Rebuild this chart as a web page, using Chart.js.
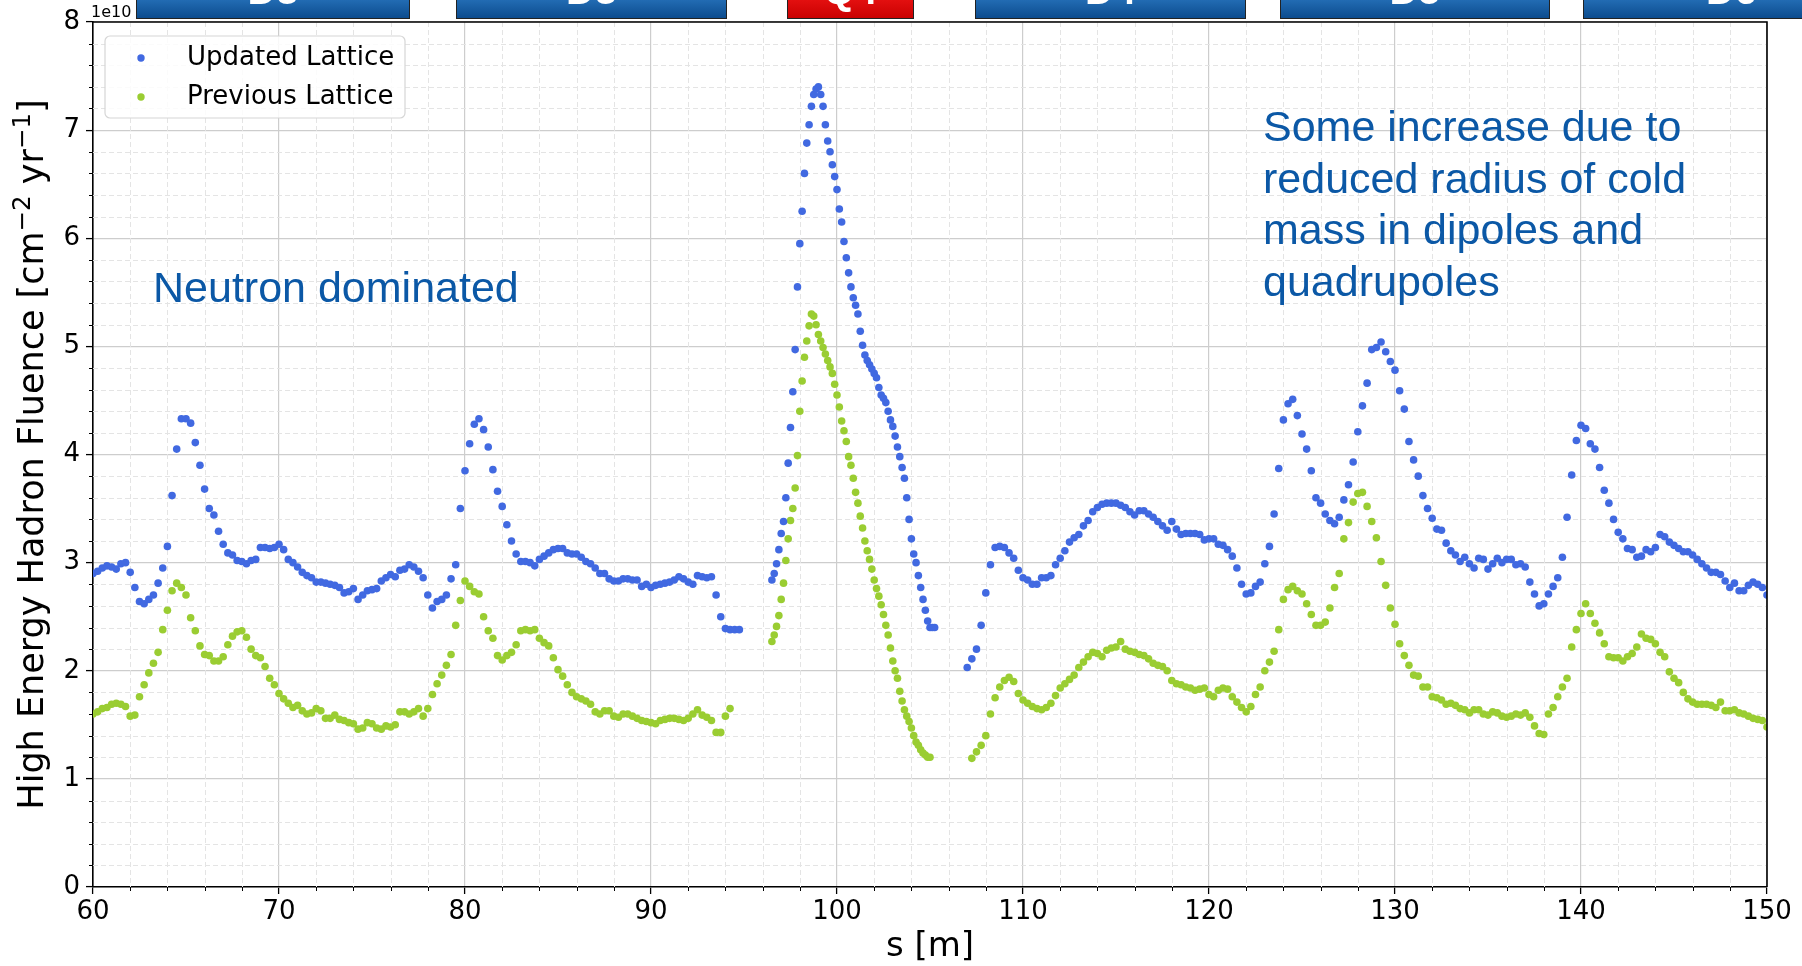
<!DOCTYPE html>
<html>
<head>
<meta charset="utf-8">
<title>High energy hadron fluence along s</title>
<script src="https://cdn.jsdelivr.net/npm/chart.js@4.4.1/dist/chart.umd.min.js"></script>
<style>
  html, body { margin: 0; padding: 0; background: #fff; }
  #wrap { position: relative; width: 1802px; height: 966px; }
</style>
</head>
<body>
<div id="wrap"><canvas id="fluence" width="1802" height="966"></canvas></div>
<script>
(function() {
    'use strict';

    // ===== Data =====
    // fluence in units of 1e10 cm^-2 yr^-1
    // arcs are binned every 0.25 m, the Q4 region every 0.125 m
    const ARC_STEP = 0.25;
    const Q4_STEP = 0.125;

    // Updated lattice
    const UPD_LEFT_START = 60.0;
    const updatedLeft = [
        2.90, 2.92, 2.95, 2.97, 2.96, 2.94, 2.99, 3.00, 2.91, 2.77, 2.64, 2.62, 2.66, 2.70, 2.81, 2.95, 3.15, 3.62, 4.05, 4.33,
        4.33, 4.29, 4.11, 3.90, 3.68, 3.50, 3.44, 3.29, 3.17, 3.09, 3.07, 3.02, 3.01, 2.99, 3.02, 3.03, 3.14, 3.14, 3.13, 3.14,
        3.17, 3.12, 3.03, 3.00, 2.96, 2.91, 2.88, 2.86, 2.82, 2.82, 2.81, 2.80, 2.79, 2.77, 2.72, 2.73, 2.76, 2.66, 2.70, 2.74,
        2.75, 2.76, 2.83, 2.86, 2.89, 2.87, 2.93, 2.94, 2.98, 2.96, 2.92, 2.86, 2.70, 2.58, 2.64, 2.66, 2.70, 2.85, 2.98, 3.50,
        3.85, 4.10, 4.28, 4.33, 4.23, 4.07, 3.86, 3.66, 3.52, 3.35, 3.20, 3.08, 3.01, 3.01, 3.00, 2.97, 3.03, 3.06, 3.09, 3.12,
        3.13, 3.13, 3.09, 3.08, 3.08, 3.05, 3.01, 2.99, 2.95, 2.90, 2.90, 2.85, 2.83, 2.83, 2.85, 2.85, 2.84, 2.84, 2.78, 2.80,
        2.77, 2.79, 2.80, 2.81, 2.82, 2.84, 2.87, 2.85, 2.82, 2.80, 2.88, 2.87, 2.86, 2.87, 2.70, 2.50, 2.39, 2.38, 2.38, 2.38
    ];
    const UPD_Q4_START = 96.5;
    const updatedQ4 = [
        2.84, 2.90, 2.99, 3.12, 3.27, 3.38, 3.60, 3.92,
        4.25, 4.58, 4.97, 5.55, 5.95, 6.25, 6.60, 6.88,
        7.05, 7.22, 7.33, 7.38, 7.40, 7.33, 7.22, 7.05,
        6.90, 6.80, 6.68, 6.57, 6.45, 6.27, 6.15, 5.97,
        5.82, 5.68, 5.55, 5.45, 5.38, 5.30, 5.14, 5.01,
        4.92, 4.87, 4.83, 4.79, 4.75, 4.71, 4.62, 4.55,
        4.52, 4.48, 4.40, 4.32, 4.26, 4.17, 4.07, 3.98,
        3.88, 3.78, 3.60, 3.40, 3.22, 3.08, 3.00, 2.88,
        2.77, 2.66, 2.56, 2.46, 2.40, 2.40, 2.40
    ];
    const UPD_RIGHT_START = 107.0;
    const updatedRight = [
        2.03, 2.11, 2.20, 2.42, 2.72, 2.98, 3.14, 3.15, 3.14, 3.09, 3.04, 2.93,
        2.86, 2.84, 2.80, 2.80, 2.86, 2.86, 2.88, 2.98, 3.04, 3.11, 3.19, 3.23, 3.26, 3.34, 3.39, 3.47, 3.51, 3.54, 3.55, 3.55,
        3.55, 3.53, 3.51, 3.47, 3.44, 3.48, 3.48, 3.45, 3.42, 3.38, 3.34, 3.30, 3.38, 3.31, 3.26, 3.27, 3.27, 3.27, 3.26, 3.21,
        3.22, 3.22, 3.17, 3.16, 3.12, 3.06, 2.95, 2.80, 2.71, 2.72, 2.78, 2.82, 2.99, 3.15, 3.45, 3.87, 4.32, 4.47, 4.51, 4.36,
        4.19, 4.05, 3.85, 3.60, 3.55, 3.45, 3.39, 3.36, 3.42, 3.58, 3.72, 3.93, 4.21, 4.45, 4.66, 4.97, 4.99, 5.04, 4.95, 4.86,
        4.78, 4.59, 4.42, 4.12, 3.95, 3.80, 3.62, 3.50, 3.41, 3.31, 3.30, 3.18, 3.11, 3.07, 3.01, 3.05, 2.99, 2.95, 3.04, 3.03,
        2.94, 2.99, 3.04, 3.00, 3.03, 3.03, 2.98, 2.99, 2.96, 2.82, 2.71, 2.60, 2.62, 2.71, 2.78, 2.86, 3.05, 3.42, 3.81, 4.13,
        4.27, 4.24, 4.10, 4.05, 3.88, 3.67, 3.55, 3.40, 3.28, 3.22, 3.13, 3.12, 3.05, 3.06, 3.12, 3.10, 3.14, 3.26, 3.24, 3.19,
        3.16, 3.13, 3.10, 3.10, 3.07, 3.03, 2.99, 2.95, 2.91, 2.91, 2.89, 2.83, 2.77, 2.81, 2.74, 2.74, 2.79, 2.82, 2.80, 2.77,
        2.70
    ];

    // Previous lattice
    const PREV_LEFT_START = 60.0;
    const previousLeft = [
        1.60, 1.62, 1.65, 1.66, 1.69, 1.70, 1.69, 1.67, 1.58, 1.59, 1.76, 1.87, 1.98, 2.07, 2.17, 2.38, 2.56, 2.74, 2.81, 2.77,
        2.70, 2.49, 2.37, 2.23, 2.15, 2.14, 2.09, 2.09, 2.13, 2.24, 2.32, 2.36, 2.37, 2.31, 2.20, 2.14, 2.12, 2.04, 1.93, 1.87,
        1.79, 1.74, 1.70, 1.66, 1.68, 1.63, 1.60, 1.61, 1.65, 1.63, 1.56, 1.56, 1.59, 1.55, 1.54, 1.52, 1.51, 1.46, 1.47, 1.52,
        1.51, 1.47, 1.46, 1.49, 1.48, 1.50, 1.62, 1.62, 1.60, 1.62, 1.65, 1.58, 1.65, 1.78, 1.88, 1.96, 2.05, 2.15, 2.42, 2.65,
        2.83, 2.78, 2.73, 2.71, 2.50, 2.37, 2.30, 2.14, 2.10, 2.14, 2.17, 2.24, 2.37, 2.38, 2.37, 2.38, 2.30, 2.26, 2.23, 2.12,
        2.01, 1.95, 1.87, 1.80, 1.76, 1.74, 1.72, 1.69, 1.62, 1.60, 1.63, 1.63, 1.58, 1.57, 1.60, 1.60, 1.58, 1.56, 1.54, 1.53,
        1.52, 1.51, 1.54, 1.55, 1.56, 1.56, 1.55, 1.54, 1.56, 1.60, 1.64, 1.59, 1.57, 1.54, 1.43, 1.43, 1.58, 1.65
    ];
    const PREV_Q4_START = 96.5;
    const previousQ4 = [
        2.27, 2.33, 2.41, 2.51, 2.66, 2.81, 3.02, 3.22,
        3.39, 3.50, 3.69, 3.99, 4.40, 4.68, 4.90, 5.05,
        5.19, 5.30, 5.28, 5.20, 5.11, 5.05, 4.99, 4.93,
        4.87, 4.81, 4.75, 4.65, 4.55, 4.44, 4.31, 4.22,
        4.12, 3.98, 3.90, 3.78, 3.65, 3.55, 3.43, 3.32,
        3.20, 3.11, 3.03, 2.94, 2.84, 2.76, 2.69, 2.61,
        2.52, 2.42, 2.33, 2.21, 2.09, 2.00, 1.93, 1.81,
        1.72, 1.64, 1.58, 1.53, 1.47, 1.40, 1.34, 1.31,
        1.27, 1.24, 1.22, 1.20, 1.20
    ];
    const PREV_RIGHT_START = 107.25;
    const previousRight = [
        1.19, 1.25, 1.31, 1.40, 1.60, 1.75, 1.85, 1.91, 1.94, 1.90, 1.79,
        1.73, 1.70, 1.67, 1.65, 1.64, 1.66, 1.70, 1.77, 1.84, 1.88, 1.92, 1.96, 2.03, 2.08, 2.13, 2.17, 2.16, 2.13, 2.19, 2.21,
        2.22, 2.27, 2.20, 2.18, 2.17, 2.15, 2.14, 2.11, 2.07, 2.05, 2.04, 2.00, 1.91, 1.88, 1.87, 1.85, 1.84, 1.82, 1.83, 1.84,
        1.78, 1.76, 1.82, 1.84, 1.83, 1.76, 1.71, 1.66, 1.62, 1.67, 1.78, 1.85, 2.00, 2.08, 2.18, 2.38, 2.66, 2.75, 2.78, 2.74,
        2.71, 2.62, 2.52, 2.42, 2.42, 2.45, 2.58, 2.77, 2.90, 3.22, 3.37, 3.56, 3.64, 3.65, 3.52, 3.38, 3.23, 3.01, 2.79, 2.58,
        2.43, 2.25, 2.14, 2.05, 1.96, 1.95, 1.85, 1.85, 1.76, 1.75, 1.73, 1.69, 1.70, 1.68, 1.65, 1.64, 1.61, 1.64, 1.64, 1.60,
        1.59, 1.62, 1.61, 1.58, 1.57, 1.58, 1.60, 1.59, 1.61, 1.57, 1.49, 1.42, 1.41, 1.60, 1.66, 1.76, 1.85, 1.93, 2.22, 2.38,
        2.53, 2.62, 2.53, 2.44, 2.35, 2.25, 2.13, 2.12, 2.12, 2.09, 2.13, 2.16, 2.22, 2.34, 2.30, 2.29, 2.25, 2.17, 2.13, 1.99,
        1.93, 1.89, 1.80, 1.74, 1.71, 1.69, 1.69, 1.69, 1.68, 1.66, 1.71, 1.63, 1.63, 1.64, 1.61, 1.60, 1.58, 1.56, 1.55, 1.54,
        1.48
    ];

    const X_TICKS = [60, 70, 80, 90, 100, 110, 120, 130, 140, 150];
    const Y_TICKS = [0, 1, 2, 3, 4, 5, 6, 7, 8];

    // magnets drawn along the top, extents in s [m]
    const magnetNames = ['D3', 'D3', 'Q4', 'D4', 'D5', 'D6'];
    const magnetStart = [62.3, 79.5, 97.3, 107.4, 123.8, 140.1];
    const magnetEnd = [77.0, 94.05, 104.1, 121.95, 138.3, 156.0];
    const magnetKind = ['dipole', 'dipole', 'quad', 'dipole', 'dipole', 'dipole'];

    // ===== Styles =====
    const BLUE = '#4169e1';
    const GREEN = '#9acd32';
    const NOTE = '#0b58a6';
    const AXIS_FONT = 'DejaVu Sans';

    function segment(start, step, vals) {
        return vals.map((v, i) => ({ x: start + i * step, y: v }));
    }

    const updatedPoints = [].concat(
        segment(UPD_LEFT_START, ARC_STEP, updatedLeft),
        segment(UPD_Q4_START, Q4_STEP, updatedQ4),
        segment(UPD_RIGHT_START, ARC_STEP, updatedRight)
    );
    const previousPoints = [].concat(
        segment(PREV_LEFT_START, ARC_STEP, previousLeft),
        segment(PREV_Q4_START, Q4_STEP, previousQ4),
        segment(PREV_RIGHT_START, ARC_STEP, previousRight)
    );

    // y axis title with raised exponents
    function drawYTitle(ctx, area) {
        const big = '35px "' + AXIS_FONT + '"';
        const small = '24.5px "' + AXIS_FONT + '"';
        const parts = [
            ['High Energy Hadron Fluence [cm', big, 0],
            ['\u22122', small, 13],
            [' yr', big, 0],
            ['\u22121', small, 13],
            [']', big, 0]
        ];
        ctx.save();
        let total = 0;
        parts.forEach(p => { ctx.font = p[1]; total += ctx.measureText(p[0]).width; });
        ctx.translate(43, (area.top + area.bottom) / 2);
        ctx.rotate(-Math.PI / 2);
        ctx.fillStyle = '#000';
        ctx.textAlign = 'left';
        ctx.textBaseline = 'alphabetic';
        let pos = -total / 2;
        parts.forEach(p => {
            ctx.font = p[1];
            ctx.fillText(p[0], pos, -p[2]);
            pos += ctx.measureText(p[0]).width;
        });
        ctx.restore();
    }

    // ===== Extra drawing: minor grid, spines, legend, notes, magnets =====
    const decorations = {
        id: 'decorations',
        beforeDatasetsDraw(chart) {
            const { ctx, chartArea: a, scales: { x, y } } = chart;
            ctx.save();
            ctx.strokeStyle = '#e4e4e4';
            ctx.lineWidth = 1;
            ctx.setLineDash([5, 3]);
            ctx.beginPath();
            for (let s = 62; s < 150; s += 2) {
                if (s % 10 === 0) continue;
                const px = Math.round(x.getPixelForValue(s)) + 0.5;
                ctx.moveTo(px, a.top);
                ctx.lineTo(px, a.bottom);
            }
            for (let i = 1; i < 40; i++) {
                if (i % 5 === 0) continue;
                const py = Math.round(y.getPixelForValue(i * 0.2)) + 0.5;
                ctx.moveTo(a.left, py);
                ctx.lineTo(a.right, py);
            }
            ctx.stroke();

            // minor tick marks
            ctx.setLineDash([]);
            ctx.strokeStyle = '#000';
            ctx.lineWidth = 1;
            ctx.beginPath();
            for (let s = 62; s < 150; s += 2) {
                if (s % 10 === 0) continue;
                const px = Math.round(x.getPixelForValue(s)) + 0.5;
                ctx.moveTo(px, a.bottom);
                ctx.lineTo(px, a.bottom + 4);
            }
            for (let i = 1; i < 40; i++) {
                if (i % 5 === 0) continue;
                const py = Math.round(y.getPixelForValue(i * 0.2)) + 0.5;
                ctx.moveTo(a.left, py);
                ctx.lineTo(a.left - 4, py);
            }
            ctx.stroke();
            ctx.restore();
        },
        afterDatasetsDraw(chart) {
            const { ctx, chartArea: a } = chart;
            ctx.save();
            ctx.strokeStyle = '#000';
            ctx.lineWidth = 1.6;
            ctx.beginPath();
            ctx.moveTo(a.left, a.top);
            ctx.lineTo(a.right, a.top);
            ctx.lineTo(a.right, a.bottom);
            ctx.stroke();
            ctx.restore();
        },
        afterDraw(chart) {
            const { ctx, chartArea, scales: { x } } = chart;
            ctx.save();

            drawYTitle(ctx, chartArea);

            // legend
            const lx = 105, ly = 36, lw = 300, lh = 82, r = 5;
            ctx.beginPath();
            ctx.moveTo(lx + r, ly);
            ctx.arcTo(lx + lw, ly, lx + lw, ly + lh, r);
            ctx.arcTo(lx + lw, ly + lh, lx, ly + lh, r);
            ctx.arcTo(lx, ly + lh, lx, ly, r);
            ctx.arcTo(lx, ly, lx + lw, ly, r);
            ctx.closePath();
            ctx.fillStyle = 'rgba(255,255,255,0.85)';
            ctx.fill();
            ctx.strokeStyle = '#d6d6d6';
            ctx.lineWidth = 1.2;
            ctx.stroke();

            const rows = [58, 97];
            chart.data.datasets.forEach((ds, i) => {
                ctx.fillStyle = ds.backgroundColor;
                ctx.beginPath();
                ctx.arc(141, rows[i], 3.7, 0, Math.PI * 2);
                ctx.fill();
                ctx.fillStyle = '#000';
                ctx.font = '26px "' + AXIS_FONT + '"';
                ctx.textAlign = 'left';
                ctx.textBaseline = 'alphabetic';
                ctx.fillText(ds.label, 187, rows[i] + 7);
            });

            // notes
            ctx.fillStyle = NOTE;
            ctx.font = '43px "Liberation Sans"';
            ctx.textBaseline = 'alphabetic';
            ctx.fillText('Neutron dominated', 153, 302);
            const lines = ['Some increase due to', 'reduced radius of cold', 'mass in dipoles and', 'quadrupoles'];
            lines.forEach((t, i) => ctx.fillText(t, 1263, 141 + i * 51.7));

            // scale multiplier
            ctx.fillStyle = '#000';
            ctx.font = '16px "' + AXIS_FONT + '"';
            ctx.fillText('1e10', 91, 17);

            // magnets
            magnetNames.forEach((name, i) => {
                const x0 = Math.round(x.getPixelForValue(magnetStart[i])) + 0.5;
                const x1 = Math.round(x.getPixelForValue(magnetEnd[i])) + 0.5;
                const g = ctx.createLinearGradient(0, -20, 0, 19);
                if (magnetKind[i] === 'quad') {
                    g.addColorStop(0, '#ff2020');
                    g.addColorStop(1, '#c80000');
                } else {
                    g.addColorStop(0, '#3a8fdc');
                    g.addColorStop(1, '#0b4a8c');
                }
                ctx.fillStyle = g;
                ctx.fillRect(x0, -2, x1 - x0, 21);
                ctx.strokeStyle = '#222';
                ctx.lineWidth = 1;
                ctx.strokeRect(x0, -2, x1 - x0, 20.5);
                ctx.fillStyle = '#fff';
                ctx.font = 'bold 40px "Liberation Sans"';
                ctx.textAlign = 'center';
                ctx.fillText(name, (x0 + x1) / 2, 4);
                ctx.textAlign = 'left';
            });
            ctx.restore();
        }
    };

    // ===== Chart =====
    const gridStyle = {
        color: '#cdcdcd',
        lineWidth: 1.2,
        tickLength: 7,
        tickColor: '#000',
        tickWidth: 1.3
    };

    new Chart(document.getElementById('fluence'), {
        type: 'scatter',
        data: {
            datasets: [{
                label: 'Updated Lattice',
                data: updatedPoints,
                backgroundColor: BLUE,
                borderWidth: 0,
                pointRadius: 3.8,
                pointHoverRadius: 3.8
            }, {
                label: 'Previous Lattice',
                data: previousPoints,
                backgroundColor: GREEN,
                borderWidth: 0,
                pointRadius: 3.8,
                pointHoverRadius: 3.8
            }]
        },
        options: {
            responsive: false,
            animation: false,
            events: [],
            layout: { padding: { top: 22, right: 35, left: 0, bottom: 0 } },
            plugins: {
                legend: { display: false },
                tooltip: { enabled: false }
            },
            scales: {
                x: {
                    type: 'linear',
                    min: 60,
                    max: 150,
                    afterBuildTicks: s => { s.ticks = X_TICKS.map(v => ({ value: v })); },
                    afterFit: s => { s.height = 79; },
                    ticks: {
                        font: { family: AXIS_FONT, size: 26 },
                        color: '#000',
                        padding: 3,
                        maxRotation: 0,
                        autoSkip: false,
                        callback: v => String(v)
                    },
                    grid: gridStyle,
                    border: { color: '#000', width: 1.6 },
                    title: {
                        display: true,
                        text: 's [m]',
                        color: '#000',
                        font: { family: AXIS_FONT, size: 34, lineHeight: 1.1 },
                        padding: { top: 0, bottom: 0 }
                    }
                },
                y: {
                    min: 0,
                    max: 8,
                    afterBuildTicks: s => { s.ticks = Y_TICKS.map(v => ({ value: v })); },
                    afterFit: s => { s.width = 93; },
                    ticks: {
                        font: { family: AXIS_FONT, size: 26 },
                        color: '#000',
                        padding: 6,
                        callback: v => String(v)
                    },
                    grid: gridStyle,
                    border: { color: '#000', width: 1.6 }
                }
            }
        },
        plugins: [decorations]
    });
})();
</script>
</body>
</html>
